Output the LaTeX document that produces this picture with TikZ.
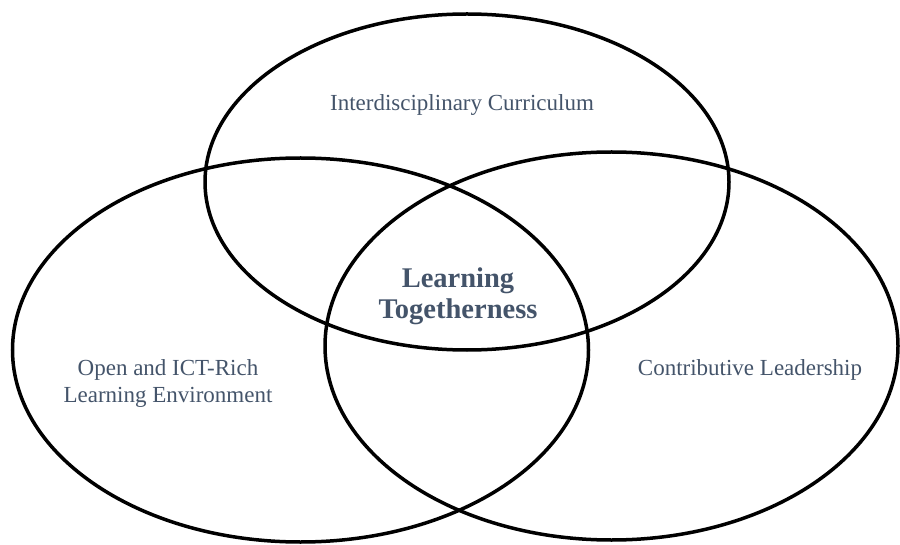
\documentclass[tikz,border=0pt]{standalone}
\usepackage{fontspec}
\setmainfont{Liberation Serif}
\definecolor{txtblue}{HTML}{44546A}
\begin{document}
\begin{tikzpicture}[x=1bp,y=-1bp,
  ring/.style={draw=black,line width=3.5bp},
  lbl/.style={text=txtblue,font=\fontsize{23bp}{27bp}\selectfont,align=center,inner sep=0pt},
  core/.style={text=txtblue,font=\bfseries\fontsize{28.5bp}{31bp}\selectfont,align=center,inner sep=0pt}]
\useasboundingbox (0,0) rectangle (900,545);
\draw[ring] (467,182) ellipse [x radius=262, y radius=168];
\draw[ring] (300.5,350) ellipse [x radius=288, y radius=192];
\draw[ring] (611.5,346) ellipse [x radius=286.5, y radius=194];
\node[lbl] (ic) at (462,105) {Interdisciplinary Curriculum};
\node[core] (lt) at (458,296) {Learning\\Togetherness};
\node[lbl] (oe) at (168,384) {Open and ICT-Rich\\Learning Environment};
\node[lbl] (cl) at (750,370) {Contributive Leadership};
\end{tikzpicture}
\end{document}
